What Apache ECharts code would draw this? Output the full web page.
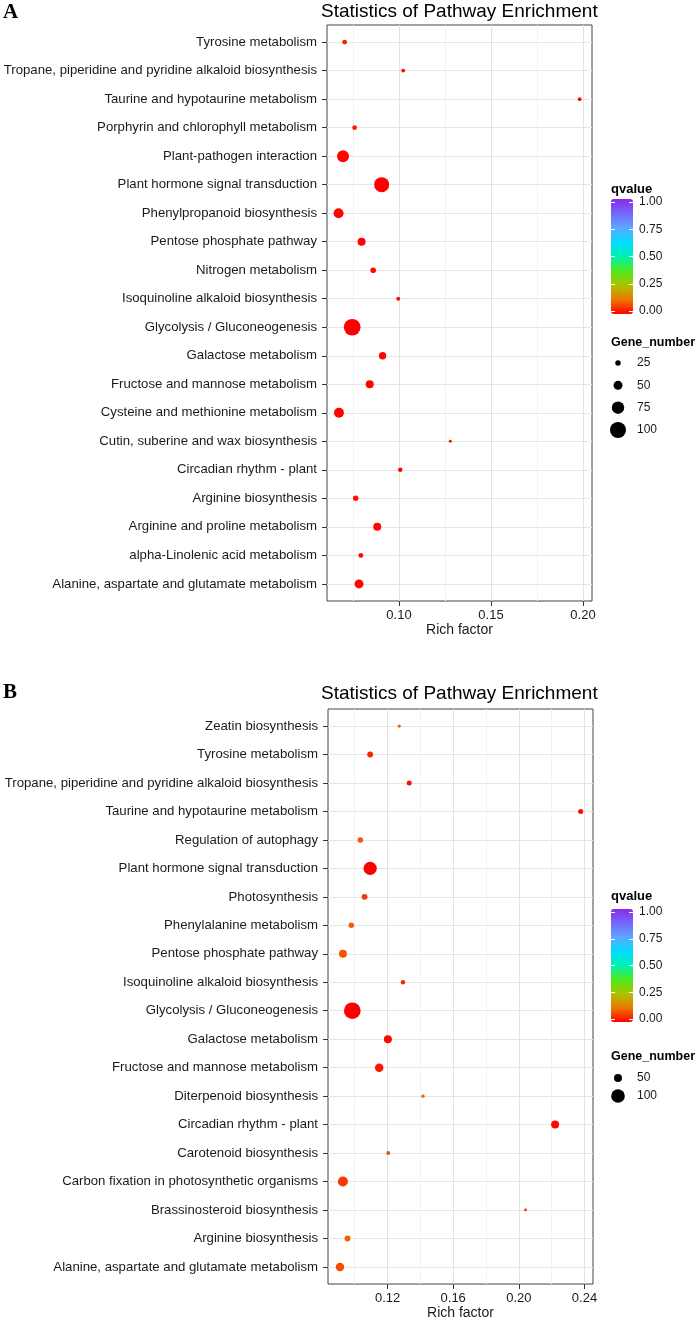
<!DOCTYPE html>
<html>
<head>
<meta charset="utf-8">
<script src="https://cdn.jsdelivr.net/npm/echarts@6/dist/echarts.min.js"></script>
<style>
html, body { margin: 0; padding: 0; background: #fff; }
#chart { width: 699px; height: 1323px; }
</style>
</head>
<body>
<div id="chart"></div>
<script>
// panel A, top to bottom
var pathwaysA = [
    'Tyrosine metabolism',
    'Tropane, piperidine and pyridine alkaloid biosynthesis',
    'Taurine and hypotaurine metabolism',
    'Porphyrin and chlorophyll metabolism',
    'Plant-pathogen interaction',
    'Plant hormone signal transduction',
    'Phenylpropanoid biosynthesis',
    'Pentose phosphate pathway',
    'Nitrogen metabolism',
    'Isoquinoline alkaloid biosynthesis',
    'Glycolysis / Gluconeogenesis',
    'Galactose metabolism',
    'Fructose and mannose metabolism',
    'Cysteine and methionine metabolism',
    'Cutin, suberine and wax biosynthesis',
    'Circadian rhythm - plant',
    'Arginine biosynthesis',
    'Arginine and proline metabolism',
    'alpha-Linolenic acid metabolism',
    'Alanine, aspartate and glutamate metabolism'
];
var richA = [0.0705, 0.1023, 0.1982, 0.0759, 0.0696, 0.0906, 0.0672, 0.0797, 0.0860, 0.0996,
             0.0746, 0.0911, 0.0841, 0.0674, 0.1279, 0.1007, 0.0765, 0.0882, 0.0793, 0.0783];
var geneA = [21, 14, 13, 20, 71, 93, 57, 43, 26, 14, 105, 38, 43, 57, 7, 18, 25, 43, 21, 50];
var qA = [0.035, 0.015, 0.01, 0.03, 0.005, 0.0, 0.005, 0.005, 0.01, 0.015,
          0.0, 0.005, 0.005, 0.005, 0.02, 0.01, 0.015, 0.005, 0.015, 0.005];

// panel B, top to bottom
var pathwaysB = [
    'Zeatin biosynthesis',
    'Tyrosine metabolism',
    'Tropane, piperidine and pyridine alkaloid biosynthesis',
    'Taurine and hypotaurine metabolism',
    'Regulation of autophagy',
    'Plant hormone signal transduction',
    'Photosynthesis',
    'Phenylalanine metabolism',
    'Pentose phosphate pathway',
    'Isoquinoline alkaloid biosynthesis',
    'Glycolysis / Gluconeogenesis',
    'Galactose metabolism',
    'Fructose and mannose metabolism',
    'Diterpenoid biosynthesis',
    'Circadian rhythm - plant',
    'Carotenoid biosynthesis',
    'Carbon fixation in photosynthetic organisms',
    'Brassinosteroid biosynthesis',
    'Arginine biosynthesis',
    'Alanine, aspartate and glutamate metabolism'
];
var richB = [0.1271, 0.1094, 0.1332, 0.2377, 0.1034, 0.1094, 0.1060, 0.0979, 0.0928, 0.1294,
             0.0985, 0.1202, 0.1149, 0.1416, 0.2221, 0.1204, 0.0928, 0.2041, 0.0956, 0.0910];
var geneB = [9, 32, 24, 24, 28, 96, 32, 28, 50, 19, 126, 50, 54, 9, 50, 15, 68, 4, 32, 54];
var qB = [0.10, 0.04, 0.02, 0.01, 0.09, 0.0, 0.06, 0.10, 0.09, 0.04,
          0.0, 0.01, 0.02, 0.10, 0.005, 0.09, 0.06, 0.05, 0.10, 0.08];

var majorTicksA = [0.10, 0.15, 0.20];
var minorTicksA = [0.075, 0.125, 0.175];
var majorTicksB = [0.12, 0.16, 0.20, 0.24];
var minorTicksB = [0.10, 0.14, 0.18, 0.22];
var qTicks = [0, 0.25, 0.5, 0.75, 1];
var geneBreaksA = [25, 50, 75, 100];
var geneBreaksB = [50, 100];

var rainbow = ['#FF0000', '#EE7700', '#A8C400', '#4FEA1E', '#00F0B4', '#00DDFF', '#5EA8FF', '#7466FF', '#8A2BE2'];
var sans = "'Liberation Sans', Arial, sans-serif";
var txt = '#1a1a1a';

function rowIndex(names) {
    var r = [];
    for (var i = 0; i < names.length; i++) r.push(i);
    return r;
}
function sizeFn(a, b) {
    return function (val) { return a + b * val[2]; };
}
function legendSize(a, b) {
    return function (val) { return a + b * val[1]; };
}
function pts(rich, gene, q) {
    return rich.map(function (r, i) { return [r, i, gene[i], q[i]]; });
}

var chart = echarts.init(document.getElementById('chart'));

function mainX(grid, min, max, ticks) {
    return {
        type: 'value', gridIndex: grid, min: min, max: max,
        name: 'Rich factor', nameLocation: 'middle', nameGap: 22,
        nameTextStyle: { fontFamily: sans, fontSize: 14, color: txt },
        axisLine: { show: false, onZero: false },
        axisTick: { show: true, length: 5, customValues: ticks, lineStyle: { color: '#333' } },
        axisLabel: { customValues: ticks, margin: 8, fontFamily: sans, fontSize: 13, color: txt,
            formatter: function (v) { return v.toFixed(2); } },
        splitLine: { show: true, lineStyle: { color: '#E3E3E3', width: 1 } }
    };
}
function minorX(grid, min, max, ticks) {
    return {
        type: 'value', gridIndex: grid, min: min, max: max, position: 'top',
        axisLine: { show: false, onZero: false },
        axisTick: { show: false, customValues: ticks },
        axisLabel: { show: false },
        splitLine: { show: true, lineStyle: { color: '#F2F2F2', width: 1 } }
    };
}
function mainY(grid, names) {
    return {
        type: 'value', gridIndex: grid, inverse: true, min: -0.6, max: names.length - 0.4,
        axisLine: { show: false, onZero: false },
        axisTick: { show: true, length: 5, customValues: rowIndex(names), lineStyle: { color: '#333' } },
        axisLabel: { customValues: rowIndex(names), margin: 10, fontFamily: sans, fontSize: 13.2, color: txt,
            formatter: function (v) { return names[Math.round(v)]; } },
        splitLine: { show: true, lineStyle: { color: '#E6E6E6', width: 1 } }
    };
}
function hiddenX(grid, min, max) {
    return { type: 'value', gridIndex: grid, min: min, max: max, show: false };
}
function barY(grid, side, labels) {
    return {
        type: 'value', gridIndex: grid, min: 0, max: 1, interval: 0.25, position: side, z: 10,
        axisLine: { show: false, onZero: false },
        axisTick: { show: true, inside: true, length: 4, lineStyle: { color: '#fff', width: 1 } },
        axisLabel: { show: labels, margin: 6, fontFamily: sans, fontSize: 12, color: txt,
            formatter: function (v) { return v.toFixed(2); } },
        splitLine: { show: false }
    };
}
function geneY(grid, breaks) {
    return {
        type: 'value', gridIndex: grid, inverse: true, min: breaks[0], max: breaks[breaks.length - 1],
        position: 'right',
        axisLine: { show: false, onZero: false },
        axisTick: { show: false, customValues: breaks },
        axisLabel: { customValues: breaks, margin: 11, fontFamily: sans, fontSize: 12, color: txt },
        splitLine: { show: false }
    };
}
function heading(text, left, top, size, bold, family) {
    return {
        text: text, left: left, top: top, padding: 0,
        textStyle: { fontFamily: family || sans, fontSize: size, fontWeight: bold ? 'bold' : 'normal', color: '#000' }
    };
}
function colorBar(series, top, height) {
    return {
        type: 'continuous', min: 0, max: 1, dimension: 3, seriesIndex: series,
        left: 611, top: top, itemWidth: 22, itemHeight: height, padding: 0,
        calculable: false, hoverLink: false, text: null,
        inRange: { color: rainbow }
    };
}

var option = {
    backgroundColor: '#fff',
    animation: false,
    title: [
        heading('A', 3, 2, 21, true, "'Liberation Serif', 'Times New Roman', serif"),
        heading('B', 3, 682, 21, true, "'Liberation Serif', 'Times New Roman', serif"),
        heading('Statistics of Pathway Enrichment', 321, 2, 19, false),
        heading('Statistics of Pathway Enrichment', 321, 684, 19, false),
        heading('qvalue', 611, 183, 13, true),
        heading('Gene_number', 611, 336, 12.5, true),
        heading('qvalue', 611, 890, 13, true),
        heading('Gene_number', 611, 1050, 12.5, true)
    ],
    visualMap: [
        colorBar(0, 199, 115),
        colorBar(1, 909, 113)
    ],
    grid: [
        { left: 327, top: 25, width: 265, height: 576, show: true, borderColor: '#444', borderWidth: 1, backgroundColor: '#fff' },
        { left: 328, top: 709, width: 265, height: 575, show: true, borderColor: '#444', borderWidth: 1, backgroundColor: '#fff' },
        { left: 611, top: 202, width: 22, height: 109 },
        { left: 611, top: 912, width: 22, height: 107 },
        { left: 610, top: 363, width: 16, height: 67 },
        { left: 610, top: 1078, width: 16, height: 18 }
    ],
    xAxis: [
        mainX(0, 0.0609, 0.2049, majorTicksA),
        minorX(0, 0.0609, 0.2049, minorTicksA),
        mainX(1, 0.0837, 0.2452, majorTicksB),
        minorX(1, 0.0837, 0.2452, minorTicksB),
        hiddenX(2, 0, 1),
        hiddenX(3, 0, 1),
        hiddenX(4, 0, 1),
        hiddenX(5, 0, 1)
    ],
    yAxis: [
        mainY(0, pathwaysA),
        mainY(1, pathwaysB),
        barY(2, 'right', true),
        barY(2, 'left', false),
        barY(3, 'right', true),
        barY(3, 'left', false),
        geneY(4, geneBreaksA),
        geneY(5, geneBreaksB)
    ],
    series: [
        {
            name: 'A', type: 'scatter', xAxisIndex: 0, yAxisIndex: 0,
            data: pts(richA, geneA, qA), symbolSize: sizeFn(2, 0.14), z: 5,
            itemStyle: { opacity: 1 }
        },
        {
            name: 'B', type: 'scatter', xAxisIndex: 2, yAxisIndex: 1,
            data: pts(richB, geneB, qB), symbolSize: sizeFn(2.3, 0.114), z: 5,
            itemStyle: { opacity: 1 }
        },
        {
            name: 'geneA', type: 'scatter', xAxisIndex: 6, yAxisIndex: 6,
            data: geneBreaksA.map(function (g) { return [0.5, g]; }),
            symbolSize: legendSize(2, 0.14), itemStyle: { color: '#000', opacity: 1 }
        },
        {
            name: 'geneB', type: 'scatter', xAxisIndex: 7, yAxisIndex: 7,
            data: geneBreaksB.map(function (g) { return [0.5, g]; }),
            symbolSize: legendSize(2.3, 0.114), itemStyle: { color: '#000', opacity: 1 }
        }
    ]
};

chart.setOption(option);
</script>
</body>
</html>
